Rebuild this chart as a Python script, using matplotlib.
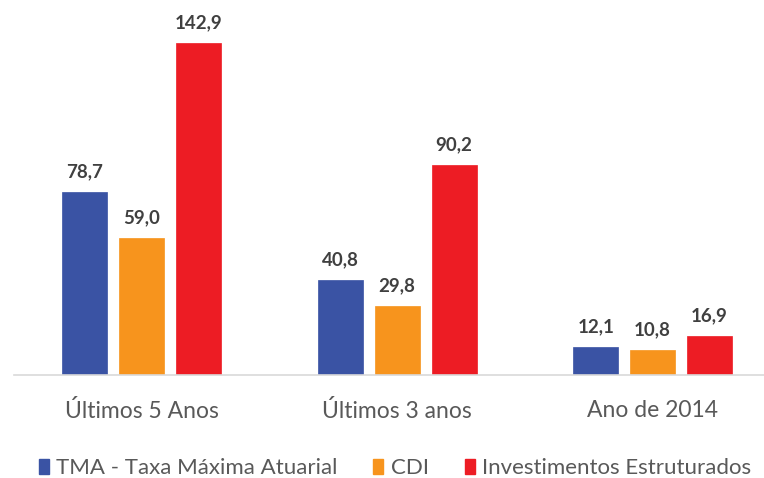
import matplotlib
matplotlib.use("Agg")
import matplotlib.pyplot as plt
from matplotlib.patches import Patch
import numpy as np

categories = ["Últimos 5 Anos", "Últimos 3 anos", "Ano de 2014"]
series_names = ["TMA - Taxa Máxima Atuarial", "CDI", "Investimentos Estruturados"]
tma = [78.7, 40.8, 12.1]
cdi = [59.0, 29.8, 10.8]
inv = [142.9, 90.2, 16.9]
colors = ["#3A53A4", "#F7941D", "#ED1C24"]

plt.rcParams['font.family'] = ['Lato', 'DejaVu Sans']

W, H = 764, 478
fig = plt.figure(figsize=(W/100, H/100), dpi=100)
ax = fig.add_axes([14/W, 103/H, (W-14)/W, 375/H])

x = np.arange(len(categories))
bw = 0.176
off = 0.223
for i, (vals, c) in enumerate(zip([tma, cdi, inv], colors)):
    bars = ax.bar(x + (i-1)*off, vals, bw, color=c, edgecolor=c, linewidth=0.5, label=series_names[i])
    for b, v in zip(bars, vals):
        ax.annotate(f"{v:.1f}".replace(".", ","), (b.get_x()+b.get_width()/2, v),
                    xytext=(0, 8.5), textcoords="offset points", ha="center", va="bottom",
                    fontsize=13.5, fontweight="bold", color="#404040")

ax.set_xlim(-0.5, 2.436)
ax.set_ylim(0, 161.3)
for s in ["top", "right", "left"]:
    ax.spines[s].set_visible(False)
ax.spines["bottom"].set_color("#D9D9D9")
ax.spines["bottom"].set_linewidth(1.2)
ax.set_yticks([])
ax.set_xticks(x)
ax.set_xticklabels(categories, fontsize=16.5, color="#595959")
ax.tick_params(axis="x", length=0, pad=18)

handles = [Patch(facecolor=c, edgecolor=c) for c in colors]
fig.legend(handles, series_names, loc="center", bbox_to_anchor=(395/W, 1-468/H), ncol=3,
           frameon=False, fontsize=16, handlelength=0.45, handleheight=0.65,
           handletextpad=0.35, columnspacing=1.6, labelcolor="#595959")

fig.savefig("out.png", dpi=100)
